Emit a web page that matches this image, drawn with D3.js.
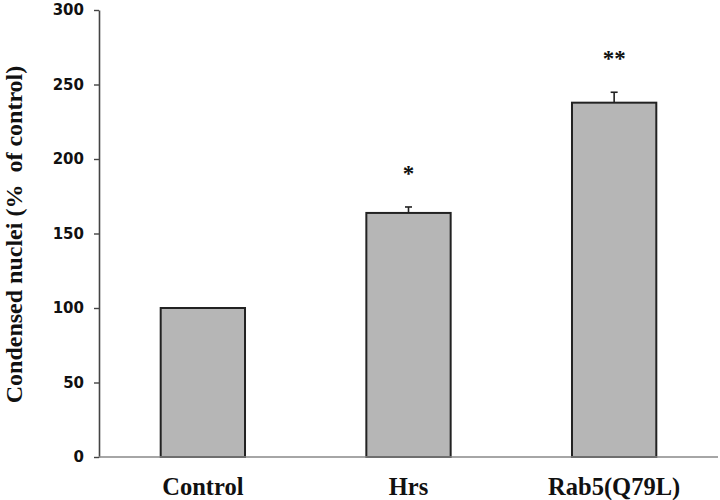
<!DOCTYPE html>
<html>
<head>
<meta charset="utf-8">
<script src="https://cdn.jsdelivr.net/npm/d3@7"></script>
<style>
  html, body { margin: 0; padding: 0; background: #fff; }
  svg { display: block; }
</style>
</head>
<body>
<svg id="chart" width="720" height="500"></svg>
<script>
// chart data
const categories = ["Control", "Hrs", "Rab5(Q79L)"];
const values = [100, 163.8, 237.8];
const errors = [0, 4, 7];
const stars = ["", "*", "**"];
const yTicks = [0, 50, 100, 150, 200, 250, 300];

const width = 720;
const height = 500;
const margin = { top: 10, right: 2, bottom: 43, left: 99 };

const $svg = d3.select("svg#chart");

const x = d3
  .scaleBand()
  .domain(categories)
  .range([margin.left, width - margin.right])
  .paddingInner(0.59)
  .paddingOuter(0.3);

const y = d3
  .scaleLinear()
  .domain([0, 300])
  .range([height - margin.bottom, margin.top]);

// y axis
const yAxis = $svg
  .append("g")
  .attr("transform", `translate(${margin.left},0)`)
  .call(d3.axisLeft(y).tickValues(yTicks).tickSize(5).tickPadding(10).tickSizeOuter(0));

yAxis.select(".domain").attr("stroke", "#444").attr("stroke-width", 1.6);
yAxis.selectAll(".tick line").attr("stroke", "#444").attr("stroke-width", 1.4);
yAxis
  .selectAll(".tick text")
  .attr("fill", "#111")
  .attr("font-family", "DejaVu Sans")
  .attr("font-weight", "bold")
  .attr("font-size", 15);

// axis title
$svg
  .append("text")
  .attr("transform", `translate(22,${(y(300) + y(0)) / 2 + 1}) rotate(-90)`)
  .attr("text-anchor", "middle")
  .attr("font-family", "Liberation Serif")
  .attr("font-weight", "bold")
  .attr("font-size", 24)
  .attr("fill", "#111")
  .style("white-space", "pre")
  .text("Condensed nuclei (%  of control)");

// bars
$svg
  .append("g")
  .selectAll("rect")
  .data(categories)
  .join("rect")
  .attr("x", (d) => x(d))
  .attr("y", (d, i) => y(values[i]))
  .attr("width", x.bandwidth())
  .attr("height", (d, i) => y(0) - y(values[i]))
  .attr("fill", "#b6b6b6")
  .attr("stroke", "#222")
  .attr("stroke-width", 2);

// baseline
$svg
  .append("line")
  .attr("x1", margin.left)
  .attr("x2", width - margin.right)
  .attr("y1", y(0))
  .attr("y2", y(0))
  .attr("stroke", "#888")
  .attr("stroke-width", 1.5);

// error bars (upper half only)
const $err = $svg.append("g").attr("stroke", "#222").attr("stroke-width", 1.6);
categories.forEach((c, i) => {
  if (!errors[i]) return;
  const cx = x(c) + x.bandwidth() / 2;
  $err.append("line")
    .attr("x1", cx).attr("x2", cx)
    .attr("y1", y(values[i])).attr("y2", y(values[i] + errors[i]));
  $err.append("line")
    .attr("x1", cx - 3.5).attr("x2", cx + 3.5)
    .attr("y1", y(values[i] + errors[i])).attr("y2", y(values[i] + errors[i]));
});

// significance stars
$svg
  .append("g")
  .selectAll("text")
  .data(categories)
  .join("text")
  .attr("x", (d) => x(d) + x.bandwidth() / 2)
  .attr("y", (d, i) => y(values[i] + errors[i]) - 26)
  .attr("text-anchor", "middle")
  .attr("font-family", "Liberation Serif")
  .attr("font-weight", "bold")
  .attr("font-size", 23)
  .attr("fill", "#111")
  .text((d, i) => stars[i]);

// category labels
$svg
  .append("g")
  .selectAll("text")
  .data(categories)
  .join("text")
  .attr("x", (d) => x(d) + x.bandwidth() / 2)
  .attr("y", height - 5)
  .attr("text-anchor", "middle")
  .attr("font-family", "Liberation Serif")
  .attr("font-weight", "bold")
  .attr("font-size", 24.5)
  .attr("fill", "#111")
  .text((d) => d);
</script>
</body>
</html>
